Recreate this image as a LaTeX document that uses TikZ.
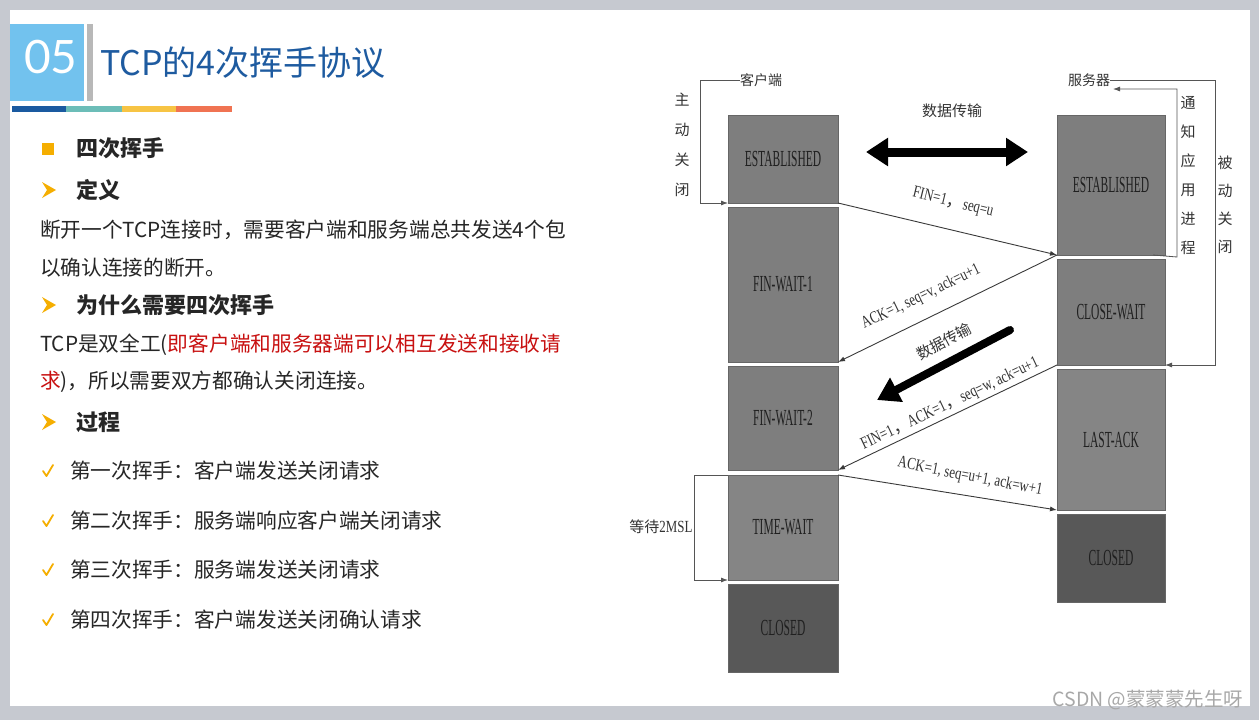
\documentclass[tikz,border=0pt]{standalone}
\usepackage{fontspec}
\setmainfont{Noto Sans CJK SC}
\newfontfamily\ser{Liberation Serif}
\newfontfamily\serbox{Liberation Serif}[FakeStretch=0.5]
\newfontfamily\sermsg{Liberation Serif}[FakeStretch=0.76]
\newfontfamily\numfont{Lato}
\usetikzlibrary{arrows.meta}
\definecolor{slidegray}{HTML}{C6C9D0}
\definecolor{hdrblue}{HTML}{72C2EE}
\definecolor{hdrbar}{HTML}{B8B8B8}
\definecolor{titleblue}{HTML}{1E5BA0}
\definecolor{stripA}{HTML}{1A5AA0}
\definecolor{stripB}{HTML}{6CBDB8}
\definecolor{stripC}{HTML}{F7C444}
\definecolor{stripD}{HTML}{F07352}
\definecolor{bulletorange}{HTML}{F5AE00}
\definecolor{bodytext}{HTML}{262626}
\definecolor{redtext}{HTML}{C81010}
\definecolor{boxgray}{HTML}{7E7E7E}
\definecolor{boxgrayB}{HTML}{858585}
\definecolor{boxdark}{HTML}{585858}
\definecolor{boxline}{HTML}{666666}
\definecolor{boxtext}{HTML}{202020}
\definecolor{msgcol}{HTML}{3A3A3A}
\definecolor{msgtext}{HTML}{333333}
\definecolor{brkcol}{HTML}{555555}
\definecolor{wmark}{HTML}{A8A8A8}
\begin{document}
\begin{tikzpicture}[x=1pt,y=-1pt,
  every node/.style={inner sep=0pt, outer sep=0pt},
  stbox/.style={draw=boxline, line width=0.8pt, fill=boxgray, minimum width=110pt, text=boxtext, font=\fontsize{23}{23}\serbox},
  msg/.style={draw=msgcol, line width=0.9pt, -{Latex[length=7pt,width=5pt]}},
  mlabel/.style={text=msgtext, font=\fontsize{17}{17}\sermsg},
  brk/.style={draw=brkcol, line width=0.8pt},
  brka/.style={brk, -{Latex[length=7pt,width=5pt]}},
  dlabel/.style={font=\fontsize{14}{14}\selectfont, text=msgtext},
  vtext/.style={align=center, text=msgtext},
  body/.style={anchor=west, font=\fontsize{20.7}{24}\selectfont, text=bodytext},
  head/.style={anchor=west, font=\fontsize{22}{26}\selectfont\bfseries, text=bodytext},
]
\useasboundingbox (0,0) rectangle (1259,720);
\fill[slidegray] (0,0) rectangle (1259,720);
\fill[white] (10,10) rectangle (1250,706);

% header
\fill[hdrblue] (10,24) rectangle (84,101);
\fill[hdrbar] (87,24) rectangle (93,101);
\node[text=white, font=\fontsize{46}{46}\numfont] (num) at (51,57) {05};
\node[anchor=west, text=titleblue, font=\fontsize{34}{36}\selectfont] (title) at (100,63) {TCP的4次挥手协议};
\fill[stripA] (12,106) rectangle (66,112);
\fill[stripB] (66,106) rectangle (122,112);
\fill[stripC] (122,106) rectangle (176,112);
\fill[stripD] (176,106) rectangle (232,112);

% left text
\fill[bulletorange] (42,143) rectangle (54,155);
\node[head] (h1) at (76,148) {四次挥手};
\fill[bulletorange] (42,182) -- (56,190) -- (42,198) -- (47,190) -- cycle;
\node[head] (h2) at (76,190) {定义};
\node[body] (t1) at (40,230) {断开一个TCP连接时，需要客户端和服务端总共发送4个包};
\node[body] (t2) at (40,268) {以确认连接的断开。};
\fill[bulletorange] (42,297) -- (56,305) -- (42,313) -- (47,305) -- cycle;
\node[head] (h3) at (76,305) {为什么需要四次挥手};
\node[body] (t3) at (40,345) {TCP是双全工(\textcolor{redtext}{即客户端和服务器端可以相互发送和接收请}};
\node[body] (t4) at (40,382) {\textcolor{redtext}{求})，所以需要双方都确认关闭连接。};
\fill[bulletorange] (42,414) -- (56,422) -- (42,430) -- (47,422) -- cycle;
\node[head] (h4) at (76,422) {过程};
\foreach \yy in {471,521,570,620}{
  \draw[bulletorange, line width=1.8pt, line cap=round, line join=round] (43,\yy) -- (46.5,\yy+5) -- (53,\yy-6);
}
\node[body] (p1) at (70,471) {第一次挥手：客户端发送关闭请求};
\node[body] (p2) at (70,521) {第二次挥手：服务端响应客户端关闭请求};
\node[body] (p3) at (70,570) {第三次挥手：服务端发送关闭请求};
\node[body] (p4) at (70,620) {第四次挥手：客户端发送关闭确认请求};

% client boxes
\node[stbox, minimum height=88pt] (cE) at (783,159) {ESTABLISHED};
\node[stbox, minimum height=155pt] (cF1) at (783,284.5) {FIN-WAIT-1};
\node[stbox, minimum height=104pt] (cF2) at (783,418) {FIN-WAIT-2};
\node[stbox, fill=boxgrayB, minimum height=105pt] (cT) at (783,527.5) {TIME-WAIT};
\node[stbox, fill=boxdark, minimum height=88pt] (cC) at (783,628) {CLOSED};
% server boxes
\node[stbox, minimum width=108pt, minimum height=140pt] (sE) at (1111,185) {ESTABLISHED};
\node[stbox, minimum width=108pt, minimum height=106pt] (sCW) at (1111,312) {CLOSE-WAIT};
\node[stbox, fill=boxgrayB, minimum width=108pt, minimum height=141pt] (sLA) at (1111,439.5) {LAST-ACK};
\node[stbox, fill=boxdark, minimum width=108pt, minimum height=88pt] (sC) at (1111,558) {CLOSED};

% top labels
\node[dlabel] (cli) at (761,80) {客户端};
\node[dlabel] (svr) at (1089,80) {服务器};
\node[dlabel, font=\fontsize{15}{15}\selectfont] (dt1) at (952,111) {数据传输};
\coordinate (da) at (866,152);
\coordinate (db) at (1028,152);
\draw[line width=9pt, {Triangle[width=27pt,length=22pt]}-{Triangle[width=27pt,length=22pt]}] (da) -- (db);

% vertical labels
\node[vtext, font=\fontsize{15}{30}\selectfont] (zd) at (682,145) {主\\动\\关\\闭};
\node[vtext, font=\fontsize{15}{29}\selectfont] (tz) at (1188,175.5) {通\\知\\应\\用\\进\\程};
\node[vtext, font=\fontsize{15}{28}\selectfont] (bd) at (1225,205) {被\\动\\关\\闭};
\node[dlabel, font=\fontsize{15}{15}\selectfont] (wt) at (661,527) {等待{\fontsize{17}{17}\sermsg 2MSL}};

% brackets
\coordinate (cb1) at (700,80);
\coordinate (cb2) at (700,203);
\draw[brka] (cli.west) -- (cb1) -- (cb2) -- (cE.south west);
\coordinate (sb1) at (1177,257);
\coordinate (sb2) at (1177,89);
\coordinate (sb3) at (1113,89);
\draw[brka] ([xshift=-12pt]sE.south east) -- (sb1) -- (sb2) -- (sb3);
\coordinate (sc1) at (1215,80);
\coordinate (sc2) at (1215,365);
\draw[brka] (svr.east) -- (sc1) -- (sc2) -- (sCW.south east);
\coordinate (tb1) at (694,475);
\coordinate (tb2) at (694,580);
\draw[brka] (cT.north west) -- (tb1) -- (tb2) -- (cT.south west);

% messages
\draw[msg] (cE.south east) -- (sE.south west);
\node[mlabel, rotate=-13.6] (m1) at (953,203) {FIN=1{\rmfamily ，}seq=u};
\draw[msg] (sE.south west) -- (cF1.south east);
\node[mlabel, rotate=25.8] (m2) at (921,297) {ACK=1, seq=v, ack=u+1};
\coordinate (fa) at (1010,330);
\coordinate (fb) at (877,400);
\draw[line width=8pt, line cap=round, -{Triangle[width=26pt,length=22pt]}] (fa) -- (fb);
\node[dlabel, font=\fontsize{15}{15}\selectfont, rotate=27.8] (dt2) at (944,341) {数据传输};
\draw[msg] (sCW.south west) -- (cF2.south east);
\node[mlabel, rotate=25.3] (m4) at (950,404) {FIN=1{\rmfamily ，}ACK=1{\rmfamily ，}seq=w, ack=u+1};
\draw[msg] (cT.north east) -- (sLA.south west);
\node[mlabel, rotate=-11] (m5) at (970,477) {ACK=1, seq=u+1, ack=w+1};

% watermark
\node[text=wmark, font=\fontsize{19.5}{20}\selectfont] (wm) at (1148,700) {CSDN @蒙蒙蒙先生呀};
\end{tikzpicture}
\end{document}
